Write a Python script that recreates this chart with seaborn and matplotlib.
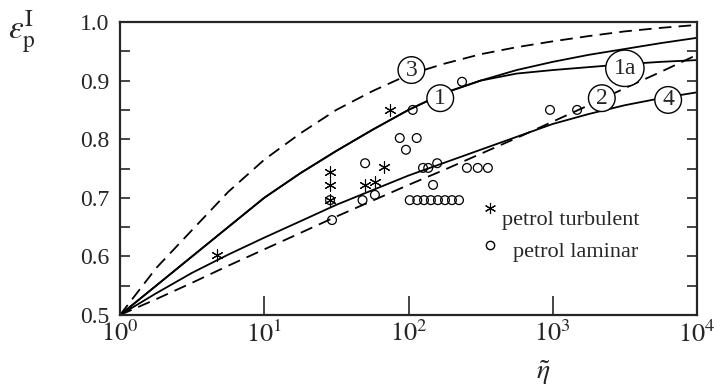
import numpy as np
import pandas as pd
import matplotlib
matplotlib.use("Agg")
import matplotlib.pyplot as plt
import seaborn as sns
from matplotlib.ticker import FixedLocator, NullLocator

# curves (every quarter decade)
eta_grid = [1, 1.78, 3.16, 5.62, 10, 17.8, 31.6, 56.2, 100, 178, 316, 562,
            1000, 1778, 3162, 5623, 10000]
curve_1 = [0.5, 0.55, 0.60, 0.65, 0.70, 0.742, 0.78, 0.816, 0.85, 0.879, 0.90,
           0.918, 0.932, 0.944, 0.954, 0.964, 0.973]
curve_1a = [0.5, 0.55, 0.60, 0.65, 0.70, 0.742, 0.78, 0.816, 0.85, 0.879, 0.90,
            0.912, 0.918, 0.923, 0.928, 0.932, 0.935]
curve_2 = [0.5, 0.527, 0.555, 0.584, 0.612, 0.64, 0.668, 0.695, 0.722, 0.748,
           0.775, 0.802, 0.830, 0.858, 0.887, 0.915, 0.944]
curve_3 = [0.5, 0.58, 0.645, 0.71, 0.765, 0.81, 0.85, 0.882, 0.91, 0.929, 0.945,
           0.957, 0.967, 0.976, 0.984, 0.99, 0.995]
curve_4 = [0.5, 0.537, 0.572, 0.603, 0.632, 0.66, 0.688, 0.713, 0.738, 0.76,
           0.782, 0.804, 0.826, 0.843, 0.858, 0.87, 0.88]

# measured points
turb_eta = [4.7, 74.5, 28.6, 28.6, 28.6, 50, 58.5, 68]
turb_eps = [0.602, 0.850, 0.744, 0.722, 0.696, 0.722, 0.727, 0.753]
lam_eta = [28.6, 29.5, 50, 58.5, 48, 87, 114, 96, 107, 235, 126, 137, 158, 148,
           102, 115, 128, 143, 160, 179, 200, 224, 254, 302, 355, 957, 1475]
lam_eps = [0.696, 0.662, 0.759, 0.705, 0.696, 0.802, 0.802, 0.782, 0.850, 0.898,
           0.751, 0.751, 0.759, 0.722,
           0.696, 0.696, 0.696, 0.696, 0.696, 0.696, 0.696, 0.696,
           0.751, 0.751, 0.751, 0.850, 0.850]

# circled curve labels
label_text = ["3", "1", "1a", "2", "4"]
label_eta = [10**2.02, 10**2.22, 10**3.50, 10**3.34, 10**3.80]
label_eps = [0.918, 0.870, 0.921, 0.870, 0.867]

y_ticks = [0.5, 0.6, 0.7, 0.8, 0.9, 1.0]
y_minor = [0.55, 0.65, 0.75, 0.85, 0.95]
x_ticks = [1, 10, 100, 1000, 10000]

sns.set_style("ticks")
plt.rcParams["font.family"] = ["Liberation Serif", "DejaVu Serif"]
plt.rcParams["mathtext.fontset"] = "stix"

fig = plt.figure(figsize=(7.14, 3.89), dpi=100)
ax = fig.add_axes([120 / 714, 74 / 389, 577 / 714, 293 / 389])

curves = {"1": (curve_1, "-"), "1a": (curve_1a, "-"), "2": (curve_2, "--"),
          "3": (curve_3, "--"), "4": (curve_4, "-")}
for name, (vals, ls) in curves.items():
    df = pd.DataFrame({"eta": eta_grid, "eps": vals})
    sns.lineplot(data=df, x="eta", y="eps", ax=ax, color="black", lw=1.3)
    if ls == "--":
        ax.lines[-1].set_dashes((7, 4))

turb = pd.DataFrame({"eta": turb_eta, "eps": turb_eps})
lam = pd.DataFrame({"eta": lam_eta, "eps": lam_eps})
sns.scatterplot(data=lam, x="eta", y="eps", ax=ax, marker="o", s=40,
                facecolor="none", edgecolor="black", linewidth=0.9, zorder=4)
sns.scatterplot(data=turb, x="eta", y="eps", ax=ax, marker=(6, 2, 0), s=70,
                color="black", linewidth=0.8, zorder=4)

for t, x, y in zip(label_text, label_eta, label_eps):
    ax.text(x, y, t, ha="center", va="center", fontsize=17, zorder=6,
            bbox=dict(boxstyle="circle,pad=0.12" if len(t) == 1 else "ellipse,pad=0.1",
                      fc="white", ec="black", lw=1.0))

# legend drawn by hand, marker above the text as in the source
ax.plot([0.641], [0.365], transform=ax.transAxes, marker=(6, 2, 0), ms=8,
        color="black", mew=0.8, ls="none")
ax.plot([0.641], [0.239], transform=ax.transAxes, marker="o", ms=6,
        mfc="none", mec="black", mew=1.0, ls="none")
ax.text(0.662, 0.324, "petrol turbulent", transform=ax.transAxes,
        va="center", fontsize=16)
ax.text(0.681, 0.212, "petrol laminar", transform=ax.transAxes,
        va="center", fontsize=16)

ax.set_xscale("log")
ax.set_xlim(1, 1e4)
ax.set_ylim(0.5, 1.0)
ax.xaxis.set_major_locator(FixedLocator(x_ticks))
ax.xaxis.set_minor_locator(NullLocator())
ax.set_xticklabels([r"$10^{%d}$" % i for i in range(len(x_ticks))])
ax.yaxis.set_major_locator(FixedLocator(y_ticks))
ax.yaxis.set_minor_locator(FixedLocator(y_minor))
ax.set_yticklabels(["%.1f" % v for v in y_ticks])
ax.tick_params(axis="x", which="major", direction="in", length=14, width=1.2,
               labelsize=19, pad=4)
ax.tick_params(axis="y", which="both", direction="in", length=7, width=1.2,
               labelsize=17, pad=8, left=True, right=True)
ax.set_xlabel("")
ax.set_ylabel("")
for s in ax.spines.values():
    s.set_visible(True)
    s.set_linewidth(1.6)

fig.text(22 / 714, 1 - 32 / 389, r"$\varepsilon_{\mathrm{p}}^{\mathrm{I}}$",
         ha="center", va="center", fontsize=24)
fig.text(543 / 714, 1 - 373 / 389, r"$\tilde{\eta}$", ha="center", va="center",
         fontsize=20)

fig.savefig("out.png", dpi=100)
